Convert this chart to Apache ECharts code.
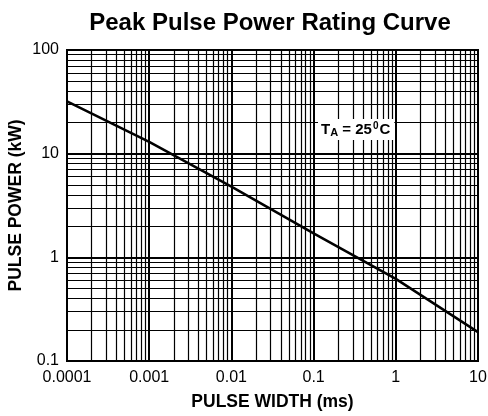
<!DOCTYPE html>
<html>
<head>
<meta charset="utf-8">
<script src="https://cdn.jsdelivr.net/npm/echarts@6/dist/echarts.min.js"></script>
<style>
  html, body { margin: 0; padding: 0; background: #fff; }
  #main { width: 488px; height: 416px; }
</style>
</head>
<body>
<div id="main"></div>
<script>
// pulse width (ms) vs peak pulse power (kW)
var pulseWidth = [0.0001, 0.001, 0.01, 0.1, 1, 10];
var pulsePower = [32, 13, 4.8, 1.7, 0.62, 0.19];

// tick labels
var xTickLabels = ['0.0001', '0.001', '0.01', '0.1', '1', '10'];
var yTickLabels = ['0.1', '1', '10', '100'];

// log grid: decades and the 1..9 steps inside each
var xDecades = [0.0001, 0.001, 0.01, 0.1, 1];
var yDecades = [0.1, 1, 10];
var steps = [1, 2, 3, 4, 5, 6, 7, 8, 9];

var myChart = echarts.init(document.getElementById('main'));

var font = '"Liberation Sans", Arial, sans-serif';

function gridLines(decades, last, key) {
    var out = [];
    decades.forEach(function (d) {
        steps.forEach(function (s) {
            var item = {};
            item[key] = +(d * s).toPrecision(3);
            item.lineStyle = { width: s === 1 ? 2 : 1.2 };
            out.push(item);
        });
    });
    var end = {};
    end[key] = last;
    end.lineStyle = { width: 2 };
    out.push(end);
    return out;
}

var xGrid = gridLines(xDecades, 10, 'xAxis');
var yGrid = gridLines(yDecades, 100, 'yAxis');

var curve = pulseWidth.map(function (x, i) { return [x, pulsePower[i]]; });

myChart.setOption({
    animation: false,
    title: {
        text: 'Peak Pulse Power Rating Curve',
        left: 265,
        textAlign: 'center',
        top: 6,
        textStyle: { fontFamily: font, fontSize: 24, fontWeight: 'bold', color: '#000' }
    },
    grid: {
        left: 67,
        right: 10,
        top: 50,
        bottom: 55,
        outerBoundsMode: 'none',
        containLabel: false,
        show: true,
        borderColor: '#000',
        borderWidth: 2,
        backgroundColor: '#fff'
    },
    xAxis: {
        type: 'log',
        logBase: 10,
        min: 0.0001,
        max: 10,
        splitNumber: 5,
        name: 'PULSE WIDTH (ms)',
        nameLocation: 'middle',
        nameGap: 32,
        nameMoveOverlap: false,
        nameTextStyle: { fontFamily: font, fontSize: 17.5, fontWeight: 'bold', color: '#000' },
        axisLine: { show: true, lineStyle: { color: '#000', width: 2 } },
        axisTick: { show: false },
        splitLine: { show: false },
        axisLabel: {
            fontFamily: font,
            fontSize: 16,
            color: '#000',
            margin: 9,
            formatter: function (v) {
                return xTickLabels[Math.round(Math.log10(v)) + 4];
            }
        }
    },
    yAxis: {
        type: 'log',
        logBase: 10,
        min: 0.1,
        max: 100,
        splitNumber: 3,
        name: 'PULSE POWER (kW)',
        nameLocation: 'middle',
        nameGap: 42,
        nameMoveOverlap: false,
        nameTextStyle: { fontFamily: font, fontSize: 17.5, fontWeight: 'bold', color: '#000' },
        axisLine: { show: true, lineStyle: { color: '#000', width: 2 } },
        axisTick: { show: false },
        splitLine: { show: false },
        axisLabel: {
            fontFamily: font,
            fontSize: 16,
            color: '#000',
            margin: 8,
            formatter: function (v) {
                return yTickLabels[Math.round(Math.log10(v)) + 1];
            }
        }
    },
    series: [
        {
            type: 'line',
            data: curve,
            symbol: 'none',
            z: 5,
            lineStyle: { color: '#000', width: 2.5 },
            markLine: {
                silent: true,
                symbol: 'none',
                precision: 8,
                label: { show: false },
                lineStyle: { color: '#000', type: 'solid' },
                data: xGrid.concat(yGrid),
                z: 1
            }
        }
    ],
    graphic: [
        {
            type: 'text',
            left: 318,
            top: 119,
            z: 100,
            style: {
                text: 'T{sub|A} = 25{sup|0}C',
                fill: '#000',
                font: 'bold 15px ' + font,
                backgroundColor: '#fff',
                padding: [2, 4, 2, 3],
                rich: {
                    sub: { fontFamily: font, fontWeight: 'bold', fontSize: 11, verticalAlign: 'bottom', padding: [6, 0, 0, 0] },
                    sup: { fontFamily: font, fontWeight: 'bold', fontSize: 10, verticalAlign: 'top', padding: [0, 1, 6, 1] }
                }
            }
        }
    ]
});
</script>
</body>
</html>
